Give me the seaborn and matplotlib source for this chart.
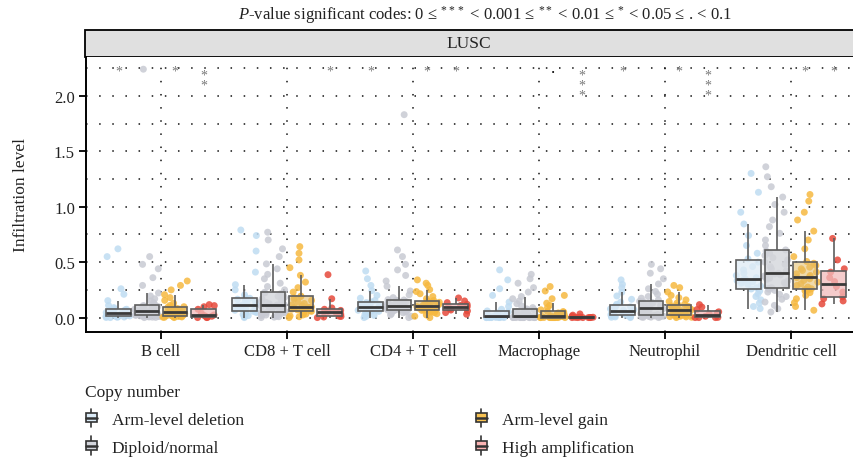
import numpy as np
import pandas as pd
import seaborn as sns
import matplotlib
matplotlib.use("Agg")
import matplotlib.pyplot as plt
from matplotlib.patches import Rectangle, Patch
from matplotlib.legend_handler import HandlerBase
from matplotlib.lines import Line2D

# ---------------------------------------------------------------- data
cell_types = ["B cell", "CD8 + T cell", "CD4 + T cell", "Macrophage",
              "Neutrophil", "Dendritic cell"]
copy_states = ["Arm-level deletion", "Diploid/normal", "Arm-level gain",
               "High amplification"]

# infiltration levels per copy-number state: deletion, diploid, gain, amplification
b_cell = [
    [0.0, 0.001, 0.003, 0.005, 0.007, 0.009, 0.011, 0.012, 0.015, 0.019, 0.023, 0.027,
     0.031, 0.035, 0.038, 0.041, 0.046, 0.051, 0.057, 0.063, 0.069, 0.075, 0.079, 0.09,
     0.11, 0.153, 0.21, 0.26, 0.55, 0.62],
    [0.0, 0.002, 0.004, 0.006, 0.008, 0.01, 0.012, 0.014, 0.016, 0.018, 0.02, 0.021,
     0.025, 0.029, 0.033, 0.037, 0.041, 0.044, 0.047, 0.05, 0.053, 0.055, 0.057, 0.061,
     0.065, 0.07, 0.075, 0.08, 0.085, 0.09, 0.095, 0.10, 0.104, 0.108, 0.12, 0.135, 0.15,
     0.17, 0.195, 0.222, 0.29, 0.36, 0.44, 0.48, 0.55, 2.24],
    [0.0, 0.002, 0.004, 0.006, 0.008, 0.01, 0.012, 0.014, 0.015, 0.017, 0.021, 0.025,
     0.03, 0.035, 0.04, 0.045, 0.049, 0.051, 0.055, 0.06, 0.065, 0.07, 0.076, 0.082,
     0.088, 0.094, 0.098, 0.11, 0.13, 0.155, 0.18, 0.207, 0.25, 0.29, 0.33],
    [0.0, 0.0, 0.002, 0.006, 0.012, 0.018, 0.024, 0.04, 0.075, 0.098, 0.108, 0.117],
]
cd8_t_cell = [
    [0.0, 0.008, 0.018, 0.028, 0.038, 0.046, 0.052, 0.057, 0.066, 0.075, 0.084, 0.092,
     0.099, 0.105, 0.11, 0.113, 0.122, 0.132, 0.143, 0.155, 0.166, 0.174, 0.18, 0.205,
     0.25, 0.297, 0.41, 0.6, 0.74, 0.79],
    [0.0, 0.004, 0.008, 0.013, 0.018, 0.023, 0.028, 0.033, 0.038, 0.042, 0.045, 0.048,
     0.056, 0.064, 0.072, 0.08, 0.088, 0.095, 0.101, 0.106, 0.11, 0.114, 0.117, 0.125,
     0.135, 0.145, 0.156, 0.168, 0.18, 0.192, 0.205, 0.215, 0.222, 0.228, 0.25, 0.28,
     0.31, 0.35, 0.39, 0.44, 0.484, 0.55, 0.62, 0.7, 0.77],
    [0.0, 0.008, 0.016, 0.024, 0.032, 0.04, 0.047, 0.053, 0.056, 0.058, 0.064, 0.07,
     0.076, 0.082, 0.087, 0.091, 0.094, 0.096, 0.105, 0.115, 0.127, 0.14, 0.155, 0.168,
     0.18, 0.19, 0.194, 0.23, 0.27, 0.32, 0.381, 0.45, 0.52, 0.58, 0.64],
    [0.0, 0.005, 0.01, 0.013, 0.03, 0.045, 0.056, 0.065, 0.075, 0.087, 0.17, 0.387],
]
cd4_t_cell = [
    [0.0, 0.01, 0.02, 0.03, 0.038, 0.045, 0.051, 0.056, 0.061, 0.066, 0.071, 0.076,
     0.082, 0.088, 0.094, 0.098, 0.103, 0.108, 0.114, 0.12, 0.127, 0.135, 0.141, 0.155,
     0.175, 0.2, 0.243, 0.29, 0.35, 0.42],
    [0.0, 0.012, 0.024, 0.034, 0.043, 0.05, 0.056, 0.061, 0.065, 0.068, 0.07, 0.072,
     0.075, 0.079, 0.083, 0.087, 0.091, 0.095, 0.099, 0.102, 0.105, 0.107, 0.108, 0.112,
     0.117, 0.122, 0.127, 0.132, 0.138, 0.144, 0.15, 0.156, 0.159, 0.162, 0.18, 0.205,
     0.24, 0.282, 0.33, 0.38, 0.43, 0.48, 0.55, 0.61, 1.83],
    [0.0, 0.012, 0.024, 0.035, 0.044, 0.051, 0.057, 0.061, 0.065, 0.067, 0.072, 0.077,
     0.082, 0.087, 0.092, 0.096, 0.099, 0.102, 0.107, 0.112, 0.118, 0.124, 0.131, 0.138,
     0.145, 0.151, 0.155, 0.17, 0.19, 0.215, 0.235, 0.252, 0.29, 0.31, 0.34],
    [0.03, 0.045, 0.06, 0.068, 0.08, 0.09, 0.102, 0.11, 0.12, 0.135, 0.15, 0.177],
]
macrophage = [
    [0.0, 0.0, 0.0, 0.0, 0.0, 0.0, 0.0, 0.001, 0.002, 0.004, 0.006, 0.008, 0.01, 0.011,
     0.012, 0.013, 0.016, 0.021, 0.027, 0.034, 0.042, 0.052, 0.06, 0.075, 0.1, 0.14,
     0.2, 0.26, 0.34, 0.43],
    [0.0, 0.0, 0.0, 0.0, 0.0, 0.0, 0.0, 0.0, 0.0, 0.0, 0.0, 0.001, 0.002, 0.003, 0.004,
     0.005, 0.006, 0.007, 0.008, 0.009, 0.01, 0.011, 0.012, 0.016, 0.021, 0.027, 0.033,
     0.04, 0.047, 0.054, 0.061, 0.068, 0.073, 0.078, 0.09, 0.105, 0.125, 0.15, 0.17,
     0.19, 0.23, 0.27, 0.31, 0.35, 0.39],
    [0.0, 0.0, 0.0, 0.0, 0.0, 0.0, 0.0, 0.0, 0.0, 0.001, 0.002, 0.003, 0.005, 0.006,
     0.008, 0.01, 0.011, 0.012, 0.015, 0.019, 0.024, 0.029, 0.035, 0.042, 0.049, 0.054,
     0.056, 0.07, 0.09, 0.11, 0.13, 0.17, 0.2, 0.24, 0.28],
    [0.0, 0.0, 0.0, 0.0, 0.0, 0.001, 0.002, 0.003, 0.005, 0.012, 0.022, 0.033],
]
neutrophil = [
    [0.0, 0.003, 0.006, 0.009, 0.012, 0.015, 0.018, 0.02, 0.024, 0.029, 0.035, 0.041,
     0.047, 0.053, 0.06, 0.066, 0.072, 0.078, 0.084, 0.09, 0.097, 0.105, 0.12, 0.14,
     0.165, 0.195, 0.228, 0.27, 0.3, 0.34],
    [0.0, 0.002, 0.004, 0.006, 0.008, 0.01, 0.012, 0.014, 0.016, 0.018, 0.02, 0.021,
     0.028, 0.035, 0.042, 0.049, 0.056, 0.062, 0.068, 0.074, 0.079, 0.083, 0.087, 0.092,
     0.097, 0.102, 0.107, 0.112, 0.118, 0.124, 0.13, 0.136, 0.142, 0.147, 0.16, 0.175,
     0.19, 0.21, 0.235, 0.26, 0.303, 0.35, 0.4, 0.44, 0.48],
    [0.0, 0.003, 0.006, 0.009, 0.012, 0.015, 0.017, 0.019, 0.02, 0.022, 0.028, 0.034,
     0.04, 0.046, 0.052, 0.057, 0.062, 0.066, 0.071, 0.076, 0.082, 0.088, 0.094, 0.1,
     0.106, 0.114, 0.12, 0.13, 0.145, 0.16, 0.18, 0.2, 0.231, 0.27, 0.29],
    [0.0, 0.0, 0.0, 0.002, 0.012, 0.022, 0.032, 0.042, 0.052, 0.072, 0.095, 0.117],
]
dendritic_cell = [
    [0.081, 0.1, 0.13, 0.16, 0.19, 0.215, 0.24, 0.258, 0.27, 0.285, 0.3, 0.31, 0.322,
     0.333, 0.342, 0.348, 0.36, 0.38, 0.4, 0.43, 0.46, 0.5, 0.53, 0.58, 0.65, 0.74,
     0.844, 0.95, 1.13, 1.3],
    [0.05, 0.08, 0.11, 0.14, 0.165, 0.19, 0.21, 0.23, 0.245, 0.255, 0.263, 0.27, 0.285,
     0.3, 0.315, 0.33, 0.345, 0.355, 0.365, 0.375, 0.385, 0.393, 0.40, 0.42, 0.44,
     0.46, 0.48, 0.5, 0.52, 0.54, 0.56, 0.58, 0.6, 0.61, 0.65, 0.7, 0.76, 0.82, 0.88,
     0.95, 1.02, 1.087, 1.18, 1.27, 1.36],
    [0.066, 0.1, 0.135, 0.17, 0.2, 0.225, 0.24, 0.25, 0.256, 0.26, 0.275, 0.29, 0.305,
     0.32, 0.335, 0.35, 0.36, 0.369, 0.38, 0.395, 0.41, 0.425, 0.44, 0.455, 0.47, 0.49,
     0.506, 0.55, 0.62, 0.7, 0.78, 0.88, 0.95, 1.05, 1.11],
    [0.123, 0.15, 0.17, 0.187, 0.23, 0.28, 0.325, 0.36, 0.41, 0.44, 0.52, 0.714],
]
all_cells = [b_cell, cd8_t_cell, cd4_t_cell, macrophage, neutrophil, dendritic_cell]

# significance code of each state against diploid/normal
sig_codes = {
    "B cell": ["*", "", "*", "**"],
    "CD8 + T cell": ["", "", "", "*"],
    "CD4 + T cell": ["*", "", "*", "*"],
    "Macrophage": ["", "", ".", "***"],
    "Neutrophil": ["*", "", "*", "***"],
    "Dendritic cell": ["", "", "*", "*"],
}

point_colors = ["#bfdcf2", "#c8cad3", "#f6b940", "#e6493b"]
box_fills = ["#dcecf8", "#d3d5dc", "#f8c353", "#fbb3b3"]
box_alpha = [0.75, 0.8, 0.55, 0.75]

rows = []
for cell, groups in zip(cell_types, all_cells):
    for state, values in zip(copy_states, groups):
        rows.extend((cell, state, v) for v in values)
df = pd.DataFrame(rows, columns=["cell", "copy", "level"])

# ---------------------------------------------------------------- style
sns.set_theme(style="white")
plt.rcParams["font.family"] = ["Liberation Serif", "DejaVu Serif"]
plt.rcParams["mathtext.fontset"] = "custom"
plt.rcParams["mathtext.rm"] = "Liberation Serif"
plt.rcParams["mathtext.it"] = "Liberation Serif:italic"
text_color = "#222222"

W, H = 854, 464
fig = plt.figure(figsize=(W / 100, H / 100), dpi=100)
ax = fig.add_axes([86 / W, 1 - 333 / H, (W - 86) / W, (333 - 58) / H])

# ---------------------------------------------------------------- points
np.random.seed(11)
sns.stripplot(data=df, x="cell", y="level", hue="copy", order=cell_types,
              hue_order=copy_states, palette=point_colors, dodge=True,
              jitter=0.36, size=5, alpha=0.85, linewidth=0, legend=False,
              zorder=1, ax=ax)
# strips dodge over 0.8 of a category, boxes over 0.9: spread strips to match
for coll in ax.collections:
    off = np.asarray(coll.get_offsets()).copy()
    if len(off):
        centre = np.round(off[:, 0])
        off[:, 0] = centre + (off[:, 0] - centre) * 0.9 / 0.8
        coll.set_offsets(off)

# ---------------------------------------------------------------- boxes
sns.boxplot(data=df, x="cell", y="level", hue="copy", order=cell_types,
            hue_order=copy_states, palette=box_fills, width=0.9, gap=0.14,
            showfliers=False, linewidth=1.2, linecolor="#5e5e5e",
            medianprops=dict(color="#3a3a3a", linewidth=2.0),
            capprops=dict(linewidth=0), legend=False, ax=ax)
n_cells = len(cell_types)
for k, patch in enumerate(ax.patches):
    h = k // n_cells if len(ax.patches) == n_cells * 4 else k % 4
    fc = patch.get_facecolor()
    patch.set_facecolor((fc[0], fc[1], fc[2], box_alpha[h]))
    patch.set_zorder(2)
for line in ax.lines:
    line.set_zorder(2.5)

# ---------------------------------------------------------------- significance
step = 0.9 / 4
for i, cell in enumerate(cell_types):
    for j, code in enumerate(sig_codes[cell]):
        if not code:
            continue
        x = i + (j - 1.5) * step
        if code == ".":
            ax.text(x, 2.215, ".", ha="center", va="baseline", fontsize=12,
                    color="black", zorder=3)
            continue
        y_top = 2.28 if len(code) == 1 else 2.245
        ax.text(x, y_top, "\n".join(code), ha="center", va="top",
                multialignment="center", linespacing=0.68,
                fontsize=10, color="#7a7a7a", zorder=3)

# ---------------------------------------------------------------- axes
ax.set_xlim(-0.595, 5.5)
ax.set_ylim(-0.13, 2.35)
ax.set_yticks([0.0, 0.5, 1.0, 1.5, 2.0])
ax.set_yticks(np.arange(0.25, 2.3, 0.5), minor=True)
ax.set_yticklabels(["0.0", "0.5", "1.0", "1.5", "2.0"])
ax.set_xlabel("")
ax.set_ylabel("Infiltration level", fontsize=12.5, color=text_color)
ax.yaxis.set_label_coords((29 - 86) / (W - 86), 0.5)

grid_kw = dict(color="#111111", linestyle=(0, (1, 7.6)), linewidth=1.1)
ax.grid(axis="y", which="both", **grid_kw)
ax.grid(axis="x", which="major", **grid_kw)
ax.set_axisbelow(True)

ax.tick_params(axis="both", which="major", bottom=True, left=True, length=5,
               width=1.3, color="black", labelsize=12, labelcolor=text_color,
               direction="out", pad=3)
ax.tick_params(axis="y", which="minor", left=False, length=0)
for side in ("top", "right"):
    ax.spines[side].set_visible(False)
for side in ("left", "bottom"):
    ax.spines[side].set_color("black")
    ax.spines[side].set_linewidth(1.4)

# ---------------------------------------------------------------- facet strip
fig.add_artist(Rectangle((85 / W, 1 - 58 / H), 1.0, 27 / H,
                         transform=fig.transFigure, facecolor="#e0e0e0",
                         edgecolor="black", linewidth=1.3, zorder=0))
fig.text(469 / W, 1 - 44.5 / H, "LUSC", ha="center", va="center",
         fontsize=12.5, color=text_color)

fig.text(485 / W, 1 - 15 / H,
         r"$\it{P}$-value significant codes: 0 ≤ ${}^{***}$ < 0.001 ≤ ${}^{**}$ < 0.01"
         r" ≤ ${}^{*}$ < 0.05 ≤ . < 0.1",
         ha="center", va="center", fontsize=12, color=text_color)


# ---------------------------------------------------------------- legend
class BoxIconHandler(HandlerBase):
    def create_artists(self, legend, orig_handle, xdescent, ydescent, width,
                       height, fontsize, trans):
        fc = orig_handle.get_facecolor()
        ec = "#333333"
        cx = -xdescent + width / 2
        y0 = -ydescent
        half = width * 0.42
        whisker = Line2D([cx, cx], [y0 - 0.05 * height, y0 + 1.05 * height],
                         color=ec, lw=1.2, transform=trans)
        box = Rectangle((cx - half, y0 + 0.22 * height), 2 * half, 0.56 * height,
                        facecolor=fc, edgecolor=ec, lw=1.2, transform=trans)
        median = Line2D([cx - half, cx + half], [y0 + 0.5 * height] * 2,
                        color=ec, lw=1.8, transform=trans)
        return [whisker, box, median]


handles = [Patch(facecolor=c) for c in box_fills]
leg = fig.legend(handles, copy_states, title="Copy number", loc="upper left",
                 bbox_to_anchor=(78 / W, 1 - 378 / H), ncol=2, frameon=False,
                 fontsize=12.5, title_fontsize=12.5,
                 handler_map={Patch: BoxIconHandler()}, handlelength=0.75,
                 handleheight=1.1, handletextpad=0.8, columnspacing=13.3,
                 labelspacing=0.55, alignment="left", borderaxespad=0)
for t in leg.get_texts():
    t.set_color(text_color)
leg.get_title().set_color(text_color)

fig.savefig("out.png", dpi=100)
